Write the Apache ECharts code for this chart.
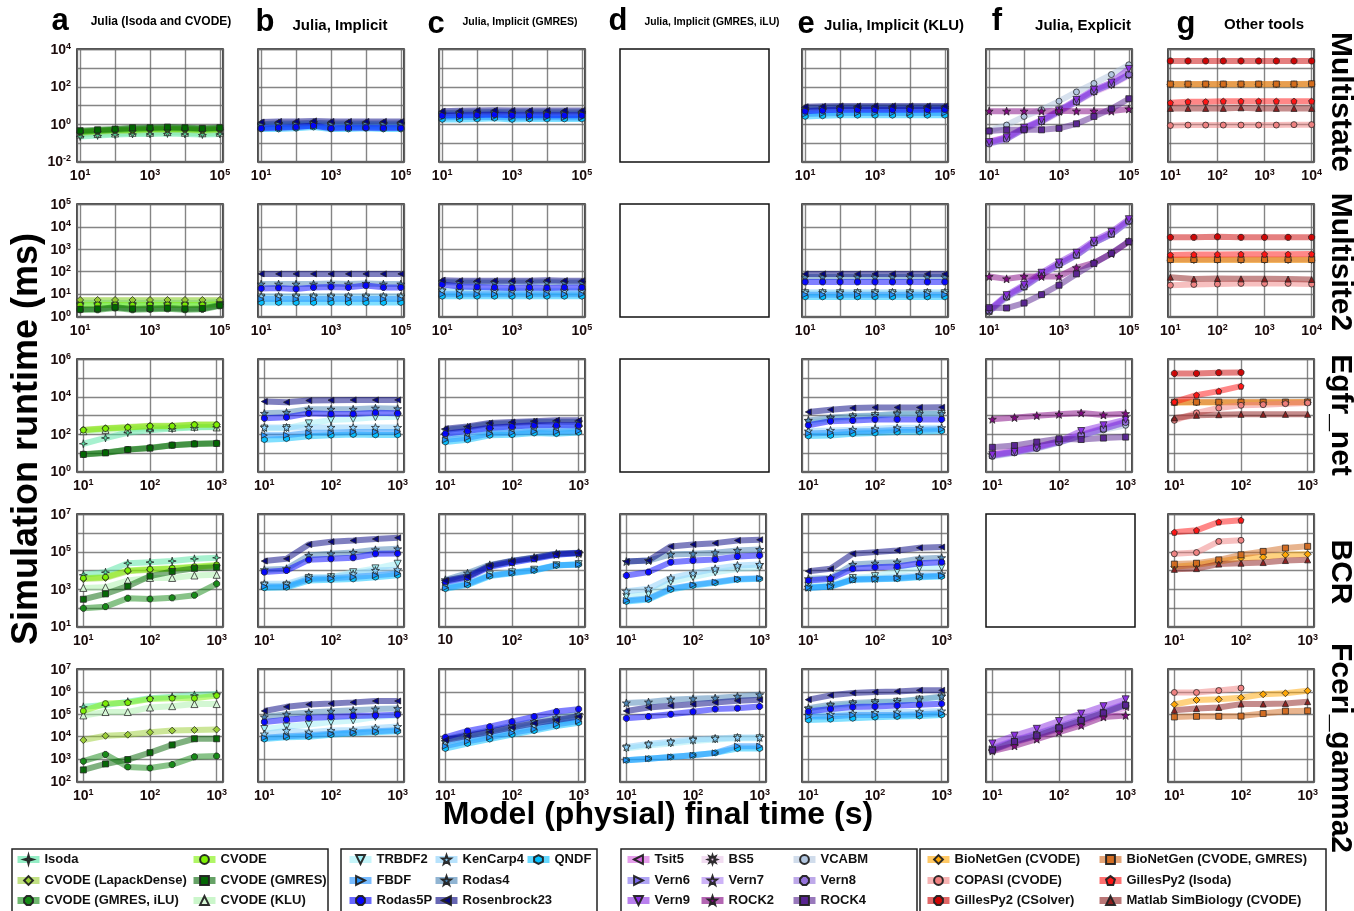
<!DOCTYPE html>
<html><head><meta charset="utf-8">
<script src="https://cdn.jsdelivr.net/npm/echarts@6/dist/echarts.min.js"></script>
<style>html,body{margin:0;padding:0;background:#fff}#chart{width:1354px;height:911px}</style>
</head><body><div id="chart"></div>
<script>
// ---------- x values (model final time, s) ----------
const X_T1 = [10, 31.6, 100, 316, 1000, 3160, 10000, 31600, 100000];
const X_G1 = [10, 23.7, 56.2, 133, 316, 750, 1780, 4220, 10000];
const X_G2 = [10, 31.6, 100, 316, 1000, 3160, 10000];
const X_T3 = [10, 21.5, 46.4, 100, 215, 464, 1000];

// ---------- Multistate (runtime, ms) ----------
const MS_a_Isoda = [0.22,0.25,0.28,0.3,0.3,0.32,0.3,0.28,0.3];
const MS_a_CVODE = [0.4,0.45,0.5,0.5,0.55,0.55,0.55,0.5,0.55];
const MS_a_Lapack = [0.35,0.4,0.45,0.45,0.5,0.5,0.5,0.45,0.5];
const MS_a_GMRES = [0.45,0.5,0.55,0.65,0.65,0.7,0.65,0.6,0.65];
const MS_a_iLU = [0.4,0.45,0.5,0.55,0.6,0.6,0.6,0.55,0.6];
const MS_a_KLU = [0.28,0.3,0.32,0.35,0.35,0.38,0.35,0.33,0.35];
const MS_b_TRBDF2 = [0.8,0.85,0.9,0.9,0.85,0.85,0.9,0.85,0.85];
const MS_b_KenCarp4 = [0.9,0.95,1.0,1.0,0.95,0.95,1.0,0.95,0.95];
const MS_b_QNDF = [0.55,0.55,0.6,0.7,0.55,0.55,0.6,0.55,0.55];
const MS_b_FBDF = [0.7,0.7,0.75,0.8,0.7,0.7,0.75,0.7,0.7];
const MS_b_Rodas4 = [1.0,1.1,1.1,1.2,1.1,1.1,1.1,1.1,1.1];
const MS_b_Rodas5P = [0.6,0.65,0.7,0.85,0.6,0.65,0.65,0.62,0.62];
const MS_b_Rosen = [1.3,1.4,1.4,1.5,1.4,1.4,1.4,1.4,1.4];
const MS_c_TRBDF2 = [2.6,2.7,2.8,2.9,2.7,2.7,2.8,2.7,2.7];
const MS_c_KenCarp4 = [3.4,3.5,3.6,3.8,3.5,3.5,3.6,3.5,3.5];
const MS_c_QNDF = [1.8,1.8,1.9,2.1,1.8,1.9,1.9,1.9,1.9];
const MS_c_FBDF = [2.3,2.4,2.4,2.5,2.3,2.3,2.4,2.3,2.3];
const MS_c_Rodas4 = [4.0,4.2,4.4,4.5,4.3,4.3,4.3,4.3,4.3];
const MS_c_Rodas5P = [2.9,3.0,3.1,3.3,3.0,3.0,3.0,3.0,3.0];
const MS_c_Rosen = [5.0,5.2,5.4,5.6,5.4,5.4,5.4,5.4,5.4];
const MS_e_TRBDF2 = [4,4.3,4.6,4.6,4.6,4.6,4.6,4.6,4.6];
const MS_e_KenCarp4 = [5.5,6,6.5,6.5,6.5,6.5,6.5,6.5,6.5];
const MS_e_QNDF = [2.6,2.8,3,3,3,3,3,3,3];
const MS_e_FBDF = [3.5,3.7,4,4,4,4,4,4,4];
const MS_e_Rodas4 = [7,7.5,8,8,8,8,8,8,8];
const MS_e_Rodas5P = [5,5.5,6,6,6,6,6,6,6.2];
const MS_e_Rosen = [8.5,9,9.5,9.5,9.5,9.5,9.5,9.5,9.5];
const MS_f_Tsit5 = [0.12,0.2,0.55,1.4,4.5,16,55,130,420];
const MS_f_BS5 = [0.1,0.18,0.5,1.3,4.2,15,50,120,400];
const MS_f_VCABM = [0.45,0.9,2.6,6,17,53,150,450,1500];
const MS_f_Vern6 = [0.1,0.17,0.6,1.5,4.9,17,60,140,450];
const MS_f_Vern7 = [0.1,0.17,0.6,1.5,5,17,60,145,460];
const MS_f_Vern8 = [0.09,0.16,0.55,1.4,4.8,16,58,140,450];
const MS_f_Vern9 = [0.11,0.2,0.65,1.7,5.5,20,70,170,900];
const MS_f_ROCK2 = [5,5,5,5,5.2,5,5,5,6.5];
const MS_f_ROCK4 = [0.43,0.5,0.5,0.5,0.6,1.05,2.6,6.6,23];
const MS_g_BNG = [135,135,135,135,135,135,135,135,140];
const MS_g_BNGg = [140,140,140,140,140,140,140,140,145];
const MS_g_COPASI = [0.85,0.9,0.9,0.9,0.9,0.9,0.9,0.95,0.95];
const MS_g_GPIsoda = [14,16,16,17,17,17,17,17,17];
const MS_g_GPCS = [2400,2400,2400,2400,2400,2400,2400,2400,2400];
const MS_g_Matlab = [7,7,7,7,7.5,7,7,7,7];

// ---------- Multisite2 ----------
const M2_a_Isoda = [4,4,4,4,4,4,4,4,4.5];
const M2_a_CVODE = [3.2,3.3,3.3,3.2,3.3,3.3,3.3,3.3,3.5];
const M2_a_Lapack = [5.5,5.5,5.5,5.5,5.5,5.5,5.5,5.5,5.5];
const M2_a_GMRES = [2.1,2.2,2.6,2.2,2.3,2.4,2.2,2.3,3.2];
const M2_a_iLU = [2.0,2.0,2.4,2.0,2.1,2.2,2.0,2.1,3.0];
const M2_a_KLU = [5,5,5,5,5,5,5,5,5];
const M2_b_TRBDF2 = [7,7,7,7,7,7,7,7,7];
const M2_b_KenCarp4 = [8,8,8,8,8,8,8,8,8];
const M2_b_QNDF = [4.2,4.2,4.2,4.2,4.2,4.2,4.2,4.2,4.2];
const M2_b_FBDF = [6,6,6,6,6,6,6,6,6];
const M2_b_Rodas4 = [28,28,28,28,30,28,30,28,28];
const M2_b_Rodas5P = [18,19,17,20,21,20,24,20,20];
const M2_b_Rosen = [80,80,80,80,80,80,80,80,80];
const M2_c_TRBDF2 = [12,12,12,12,12,12,12,12,12];
const M2_c_KenCarp4 = [15,14,14,14,14,14,14,14,14];
const M2_c_QNDF = [8,8,8,8,8,8,8,8,8];
const M2_c_FBDF = [10,10,10,10,10,10,10,10,10];
const M2_c_Rodas4 = [35,33,33,33,33,33,34,33,33];
const M2_c_Rodas5P = [27,22,21,20,19,20,19,20,20];
const M2_c_Rosen = [42,40,40,40,40,40,42,40,40];
const M2_e_TRBDF2 = [11,11,11,11,11,11,11,11,11];
const M2_e_KenCarp4 = [12,12,12,12,12,12,12,12,12];
const M2_e_QNDF = [7.5,7.5,7.5,7.5,7.5,7.5,7.5,7.5,7.5];
const M2_e_FBDF = [9.5,9.5,9.5,9.5,9.5,9.5,9.5,9.5,9.5];
const M2_e_Rodas4 = [58,58,58,58,58,58,58,58,58];
const M2_e_Rodas5P = [35,35,35,35,35,35,35,35,35];
const M2_e_Rosen = [80,80,80,80,80,80,80,80,80];
const M2_f_Tsit5 = [1.7,7.5,21,72,205,540,1950,4700,18000];
const M2_f_BS5 = [1.7,7.8,21,73,205,545,1950,4700,18000];
const M2_f_VCABM = [1.6,7,20,70,200,520,1900,4600,17000];
const M2_f_Vern6 = [1.8,8,22,75,210,560,2000,4800,19000];
const M2_f_Vern7 = [1.8,8,22,76,215,570,2050,4900,19000];
const M2_f_Vern8 = [1.8,8,22,74,210,560,2000,4800,18500];
const M2_f_Vern9 = [2.0,9,26,90,260,700,2400,6000,22000];
const M2_f_ROCK2 = [61,48,61,61,61,150,250,640,2200];
const M2_f_ROCK4 = [2.5,2.4,4,9.5,25,80,235,660,2200];
const M2_g_BNG = [330,330,330,330,330,330,330];
const M2_g_BNGg = [350,350,350,350,350,350,350];
const M2_g_COPASI = [25,27,28,30,30,30,28];
const M2_g_GPIsoda = [560,580,590,600,600,600,610];
const M2_g_GPCS = [3400,3400,3600,3400,3400,3400,3400];
const M2_g_Matlab = [57,47,50,48,48,47,45];

// ---------- Egfr_net ----------
const EG_a_Isoda = [31,63,120,165,200,230,250];
const EG_a_CVODE = [165,200,230,270,270,320,320];
const EG_a_Lapack = [175,210,240,280,280,330,330];
const EG_a_GMRES = [8.3,10,15,18,26,30,32];
const EG_a_iLU = [8.5,10.5,15,19,26,31,33];
const EG_a_KLU = [145,170,190,210,220,250,230];
const EG_b_TRBDF2 = [200,210,380,570,650,800,860];
const EG_b_KenCarp4 = [230,230,230,230,230,230,230];
const EG_b_QNDF = [51,58,78,88,96,92,92];
const EG_b_FBDF = [88,88,118,120,133,133,133];
const EG_b_Rodas4 = [1300,1450,2150,2150,2150,2450,2300];
const EG_b_Rodas5P = [710,800,1300,1200,1200,1400,1300];
const EG_b_Rosen = [5600,5100,6300,6600,6800,6800,6800];
const EG_c_TRBDF2 = [70,95,140,160,180,190,200];
const EG_c_KenCarp4 = [90,120,180,200,220,230,240];
const EG_c_QNDF = [38,50,87,93,115,107,125];
const EG_c_FBDF = [50,65,110,120,140,135,150];
const EG_c_Rodas4 = [170,230,350,380,450,450,450];
const EG_c_Rodas5P = [107,148,220,260,300,300,300];
const EG_c_Rosen = [195,260,400,450,500,550,550];
const EG_e_TRBDF2 = [400,600,800,950,1100,1150,1200];
const EG_e_KenCarp4 = [148,160,175,195,220,220,220];
const EG_e_QNDF = [80,86,105,115,130,135,148];
const EG_e_FBDF = [110,120,140,150,170,175,185];
const EG_e_Rodas4 = [550,760,900,1000,1260,1260,1260];
const EG_e_Rodas5P = [300,500,540,620,620,620,620];
const EG_e_Rosen = [1550,2050,2500,2700,2700,2700,2750];
const EG_f_Tsit5 = [9,13,22,40,90,200,420];
const EG_f_BS5 = [8.5,12.5,21,39,88,198,410];
const EG_f_VCABM = [6.5,10,17,35,80,170,300];
const EG_f_Vern6 = [7.2,11,19,38,87,195,450];
const EG_f_Vern7 = [7.5,11.5,20,40,95,220,480];
const EG_f_Vern8 = [7,10.5,18,37,85,190,430];
const EG_f_Vern9 = [8,12,21,42,148,300,600];
const EG_f_ROCK2 = [630,770,980,1150,1370,1070,1260];
const EG_f_ROCK4 = [20,25,38,57,52,62,70];
const EG_g_BNG = [4900,5000,5000,5000,5000,5000,5100];
const EG_g_BNGg = [5100,5200,5200,5200,5200,5200,5300];
const EG_g_COPASI = [550,1380,2500,3500,3800,4300,4700];
const EG_g_GPIsoda = [5300,12300,20000,37000];
const EG_g_GPCS = [178000,178000,195000,200000];
const EG_g_Matlab = [740,1020,1100,1150,1150,1150,1150];

// ---------- BCR ----------
const BC_a_Isoda = [5900,8100,24500,28000,32000,42000,48000];
const BC_a_CVODE = [3900,4400,10000,11700,13300,16000,20000];
const BC_a_Lapack = [3500,4000,9000,11000,12500,15000,18000];
const BC_a_GMRES = [290,560,1450,5000,8900,13000,15000];
const BC_a_iLU = [96,117,330,300,345,480,1940];
const BC_a_KLU = [1170,1270,2900,4000,4000,5400,5900];
const BC_b_TRBDF2 = [1600,1600,4000,4400,8100,13000,23000];
const BC_b_KenCarp4 = [1940,1940,4400,4400,6600,10000,11000];
const BC_b_QNDF = [1170,1270,2900,3160,3500,4400,5600];
const BC_b_FBDF = [1400,1400,3500,3800,4500,5500,7000];
const BC_b_Rodas4 = [11000,12400,63000,78000,92000,127000,144000];
const BC_b_Rodas5P = [8200,10000,37000,42000,48000,78000,80000];
const BC_b_Rosen = [32000,42000,245000,345000,400000,480000,560000];
const BC_c_TRBDF2 = [1500,2200,6000,8000,11000,19000,22000];
const BC_c_KenCarp4 = [2700,5000,17000,28000,45000,72000,80000];
const BC_c_QNDF = [1050,1700,5000,7200,10000,18600,21000];
const BC_c_FBDF = [1200,1900,5500,7500,10500,19000,21000];
const BC_c_Rodas4 = [3200,7200,20000,33000,50000,80000,90000];
const BC_c_Rodas5P = [2500,4200,16000,27000,42000,70000,85000];
const BC_c_Rosen = [2900,4800,18600,32000,48000,78000,85000];
const BC_d_TRBDF2 = [400,550,2500,4500,8000,12000,15000];
const BC_d_KenCarp4 = [780,1050,4000,7200,12400,18600,21000];
const BC_d_QNDF = [220,280,960,1580,2200,3300,3600];
const BC_d_FBDF = [250,320,1100,1700,2400,3500,3800];
const BC_d_Rodas4 = [30000,34000,72000,78000,89000,118000,133000];
const BC_d_Rodas5P = [5400,8200,28000,34000,39000,56000,63000];
const BC_d_Rosen = [30000,34000,194000,247000,290000,405000,440000];
const BC_e_TRBDF2 = [1500,1800,4000,5000,9200,13800,15000];
const BC_e_KenCarp4 = [1270,1500,3500,3800,4500,5800,6600];
const BC_e_QNDF = [1170,1390,3160,3400,3600,4400,4800];
const BC_e_FBDF = [1200,1400,3300,3500,3900,4800,5300];
const BC_e_Rodas4 = [3600,4000,21000,24500,28000,42000,48000];
const BC_e_Rodas5P = [2900,3600,12300,15000,16400,24500,28000];
const BC_e_Rosen = [9200,12300,78000,96000,118000,163000,178000];
const BC_g_BNG = [16000,20000,30000,46000,52000,69000,74000];
const BC_g_BNGg = [22000,24500,37000,69000,105000,158000,195000];
const BC_g_COPASI = [78000,91000,360000,410000];
const BC_g_GPIsoda = [1100000,1400000,3900000,4900000];
const BC_g_Matlab = [11500,12600,22000,24500,26500,34000,37000];

// ---------- Fceri_gamma2 ----------
const FC_a_Isoda = [215000,257000,365000,520000,610000,730000,810000];
const FC_a_CVODE = [141000,300000,330000,480000,520000,520000,680000];
const FC_a_Lapack = [7100,11000,12300,15800,18700,20000,21000];
const FC_a_GMRES = [330,610,960,1940,4300,8100,8100];
const FC_a_iLU = [810,1620,450,400,570,1270,1370];
const FC_a_KLU = [89000,126000,126000,200000,230000,285000,285000];
const FC_b_TRBDF2 = [22000,28500,35000,45000,53000,76000,89000];
const FC_b_KenCarp4 = [13200,18700,16000,18700,20000,24500,28500];
const FC_b_QNDF = [7800,9400,10000,12300,14200,15800,17400];
const FC_b_FBDF = [9000,10500,11500,13500,15500,17500,19500];
const FC_b_Rodas4 = [76000,100000,120000,138000,150000,170000,180000];
const FC_b_Rodas5P = [45000,57000,68000,76000,84000,89000,95000];
const FC_b_Rosen = [141000,215000,275000,300000,340000,390000,390000];
const FC_c_TRBDF2 = [5000,8000,12000,19000,28000,45000,60000];
const FC_c_KenCarp4 = [6000,9500,14000,22000,33000,52000,70000];
const FC_c_QNDF = [2950,5000,7800,12600,18600,30000,42000];
const FC_c_FBDF = [3800,6300,9500,15000,22000,36000,50000];
const FC_c_Rodas4 = [7800,12500,19000,30000,48000,70000,100000];
const FC_c_Rodas5P = [9400,18000,28000,47000,79000,132000,170000];
const FC_c_Rosen = [7100,11000,16600,26000,40000,56000,79000];
const FC_d_TRBDF2 = [3000,4000,5000,6500,7500,8500,8500];
const FC_d_KenCarp4 = [3500,4700,5900,7500,8400,9300,9300];
const FC_d_QNDF = [890,1050,1250,1480,1900,2950,2950];
const FC_d_FBDF = [900,1050,1250,1480,1900,3800,3800];
const FC_d_Rodas4 = [320000,350000,450000,490000,530000,630000,740000];
const FC_d_Rodas5P = [66000,79000,100000,129000,170000,187000,224000];
const FC_d_Rosen = [141000,200000,240000,282000,338000,400000,450000];
const FC_e_TRBDF2 = [150000,220000,280000,320000,360000,450000,560000];
const FC_e_KenCarp4 = [90000,100000,110000,120000,125000,130000,140000];
const FC_e_QNDF = [56000,60000,66000,74000,79000,83000,93000];
const FC_e_FBDF = [79000,79000,93000,93000,93000,100000,110000];
const FC_e_Rodas4 = [187000,265000,315000,350000,375000,475000,630000];
const FC_e_Rodas5P = [132000,174000,209000,224000,245000,265000,294000];
const FC_e_Rosen = [450000,700000,890000,980000,1050000,1170000,1170000];
const FC_f_Tsit5 = [2600,5500,11000,22000,45000,100000,200000];
const FC_f_BS5 = [2600,5800,11500,23000,48000,105000,220000];
const FC_f_VCABM = [2700,6000,12000,25000,52000,112000,250000];
const FC_f_Vern6 = [2900,6500,13000,27000,57000,125000,280000];
const FC_f_Vern7 = [3200,7000,14000,29000,62000,135000,300000];
const FC_f_Vern8 = [2800,6300,12500,26000,55000,120000,270000];
const FC_f_Vern9 = [5000,11200,22500,50000,108000,230000,465000];
const FC_f_ROCK2 = [2300,3900,7800,16000,32000,76000,89000];
const FC_f_ROCK4 = [2470,6100,11000,24700,53000,115000,255000];
const FC_g_BNG = [275000,435000,465000,550000,780000,870000,1120000];
const FC_g_BNGg = [76000,81000,81000,83000,108000,138000,143000];
const FC_g_COPASI = [940000,940000,1150000,1470000];
const FC_g_Matlab = [151000,180000,200000,285000,285000,300000,365000];

// ---------- tick label exponents ----------
const Y_EXP = [[-2,0,2,4],[0,1,2,3,4,5],[0,2,4,6],[1,3,5,7],[2,3,4,5,6,7]];
const Y_RANGE = [[-2,4],[0,5],[0,6],[1,7],[2,7]];
const X_EXP_WIDE = [1,3,5];
const X_EXP_G = [1,2,3,4];
const X_EXP_SHORT = [1,2,3];

// ---------- panel contents ----------
const N = {I:'Isoda',C:'CVODE',L:'CVODE (LapackDense)',G:'CVODE (GMRES)',GI:'CVODE (GMRES, iLU)',K:'CVODE (KLU)',
  T:'TRBDF2',KC:'KenCarp4',Q:'QNDF',F:'FBDF',R4:'Rodas4',R5:'Rodas5P',RB:'Rosenbrock23',
  TS:'Tsit5',B5:'BS5',VC:'VCABM',V6:'Vern6',V7:'Vern7',V8:'Vern8',V9:'Vern9',K2:'ROCK2',K4:'ROCK4',
  BN:'BioNetGen (CVODE)',BG:'BioNetGen (CVODE, GMRES)',CO:'COPASI (CVODE)',GP:'GillesPy2 (Isoda)',GC:'GillesPy2 (CSolver)',MB:'Matlab SimBiology (CVODE)'};

const PANELS = [
 {r:0,c:0,x:X_T1,s:[[N.K,MS_a_KLU],[N.I,MS_a_Isoda],[N.L,MS_a_Lapack],[N.C,MS_a_CVODE],[N.GI,MS_a_iLU],[N.G,MS_a_GMRES]]},
 {r:0,c:1,x:X_T1,s:[[N.T,MS_b_TRBDF2],[N.KC,MS_b_KenCarp4],[N.Q,MS_b_QNDF],[N.F,MS_b_FBDF],[N.R4,MS_b_Rodas4],[N.R5,MS_b_Rodas5P],[N.RB,MS_b_Rosen]]},
 {r:0,c:2,x:X_T1,s:[[N.T,MS_c_TRBDF2],[N.KC,MS_c_KenCarp4],[N.Q,MS_c_QNDF],[N.F,MS_c_FBDF],[N.R4,MS_c_Rodas4],[N.R5,MS_c_Rodas5P],[N.RB,MS_c_Rosen]]},
 {r:0,c:4,x:X_T1,s:[[N.T,MS_e_TRBDF2],[N.KC,MS_e_KenCarp4],[N.Q,MS_e_QNDF],[N.F,MS_e_FBDF],[N.R4,MS_e_Rodas4],[N.R5,MS_e_Rodas5P],[N.RB,MS_e_Rosen]]},
 {r:0,c:5,x:X_T1,s:[[N.TS,MS_f_Tsit5],[N.B5,MS_f_BS5],[N.VC,MS_f_VCABM],[N.V6,MS_f_Vern6],[N.V7,MS_f_Vern7],[N.V8,MS_f_Vern8],[N.V9,MS_f_Vern9],[N.K2,MS_f_ROCK2],[N.K4,MS_f_ROCK4]]},
 {r:0,c:6,x:X_G1,s:[[N.BN,MS_g_BNG],[N.BG,MS_g_BNGg],[N.CO,MS_g_COPASI],[N.GP,MS_g_GPIsoda],[N.GC,MS_g_GPCS],[N.MB,MS_g_Matlab]]},

 {r:1,c:0,x:X_T1,s:[[N.K,M2_a_KLU],[N.I,M2_a_Isoda],[N.L,M2_a_Lapack],[N.C,M2_a_CVODE],[N.GI,M2_a_iLU],[N.G,M2_a_GMRES]]},
 {r:1,c:1,x:X_T1,s:[[N.T,M2_b_TRBDF2],[N.KC,M2_b_KenCarp4],[N.Q,M2_b_QNDF],[N.F,M2_b_FBDF],[N.R4,M2_b_Rodas4],[N.R5,M2_b_Rodas5P],[N.RB,M2_b_Rosen]]},
 {r:1,c:2,x:X_T1,s:[[N.T,M2_c_TRBDF2],[N.KC,M2_c_KenCarp4],[N.Q,M2_c_QNDF],[N.F,M2_c_FBDF],[N.R4,M2_c_Rodas4],[N.R5,M2_c_Rodas5P],[N.RB,M2_c_Rosen]]},
 {r:1,c:4,x:X_T1,s:[[N.T,M2_e_TRBDF2],[N.KC,M2_e_KenCarp4],[N.Q,M2_e_QNDF],[N.F,M2_e_FBDF],[N.R4,M2_e_Rodas4],[N.R5,M2_e_Rodas5P],[N.RB,M2_e_Rosen]]},
 {r:1,c:5,x:X_T1,s:[[N.TS,M2_f_Tsit5],[N.B5,M2_f_BS5],[N.VC,M2_f_VCABM],[N.V6,M2_f_Vern6],[N.V7,M2_f_Vern7],[N.V8,M2_f_Vern8],[N.V9,M2_f_Vern9],[N.K2,M2_f_ROCK2],[N.K4,M2_f_ROCK4]]},
 {r:1,c:6,x:X_G2,s:[[N.BN,M2_g_BNG],[N.BG,M2_g_BNGg],[N.CO,M2_g_COPASI],[N.GP,M2_g_GPIsoda],[N.GC,M2_g_GPCS],[N.MB,M2_g_Matlab]]},

 {r:2,c:0,x:X_T3,s:[[N.K,EG_a_KLU],[N.I,EG_a_Isoda],[N.L,EG_a_Lapack],[N.C,EG_a_CVODE],[N.GI,EG_a_iLU],[N.G,EG_a_GMRES]]},
 {r:2,c:1,x:X_T3,s:[[N.T,EG_b_TRBDF2],[N.KC,EG_b_KenCarp4],[N.Q,EG_b_QNDF],[N.F,EG_b_FBDF],[N.R4,EG_b_Rodas4],[N.R5,EG_b_Rodas5P],[N.RB,EG_b_Rosen]]},
 {r:2,c:2,x:X_T3,s:[[N.T,EG_c_TRBDF2],[N.KC,EG_c_KenCarp4],[N.Q,EG_c_QNDF],[N.F,EG_c_FBDF],[N.R4,EG_c_Rodas4],[N.R5,EG_c_Rodas5P],[N.RB,EG_c_Rosen]]},
 {r:2,c:4,x:X_T3,s:[[N.T,EG_e_TRBDF2],[N.KC,EG_e_KenCarp4],[N.Q,EG_e_QNDF],[N.F,EG_e_FBDF],[N.R4,EG_e_Rodas4],[N.R5,EG_e_Rodas5P],[N.RB,EG_e_Rosen]]},
 {r:2,c:5,x:X_T3,s:[[N.TS,EG_f_Tsit5],[N.B5,EG_f_BS5],[N.VC,EG_f_VCABM],[N.V6,EG_f_Vern6],[N.V7,EG_f_Vern7],[N.V8,EG_f_Vern8],[N.V9,EG_f_Vern9],[N.K2,EG_f_ROCK2],[N.K4,EG_f_ROCK4]]},
 {r:2,c:6,x:X_T3,s:[[N.BN,EG_g_BNG],[N.BG,EG_g_BNGg],[N.CO,EG_g_COPASI],[N.GP,EG_g_GPIsoda],[N.GC,EG_g_GPCS],[N.MB,EG_g_Matlab]]},

 {r:3,c:0,x:X_T3,s:[[N.K,BC_a_KLU],[N.I,BC_a_Isoda],[N.L,BC_a_Lapack],[N.C,BC_a_CVODE],[N.GI,BC_a_iLU],[N.G,BC_a_GMRES]]},
 {r:3,c:1,x:X_T3,s:[[N.T,BC_b_TRBDF2],[N.KC,BC_b_KenCarp4],[N.Q,BC_b_QNDF],[N.F,BC_b_FBDF],[N.R4,BC_b_Rodas4],[N.R5,BC_b_Rodas5P],[N.RB,BC_b_Rosen]]},
 {r:3,c:2,x:X_T3,first10:true,s:[[N.T,BC_c_TRBDF2],[N.KC,BC_c_KenCarp4],[N.Q,BC_c_QNDF],[N.F,BC_c_FBDF],[N.R4,BC_c_Rodas4],[N.R5,BC_c_Rodas5P],[N.RB,BC_c_Rosen]]},
 {r:3,c:3,x:X_T3,s:[[N.T,BC_d_TRBDF2],[N.KC,BC_d_KenCarp4],[N.Q,BC_d_QNDF],[N.F,BC_d_FBDF],[N.R4,BC_d_Rodas4],[N.R5,BC_d_Rodas5P],[N.RB,BC_d_Rosen]]},
 {r:3,c:4,x:X_T3,s:[[N.T,BC_e_TRBDF2],[N.KC,BC_e_KenCarp4],[N.Q,BC_e_QNDF],[N.F,BC_e_FBDF],[N.R4,BC_e_Rodas4],[N.R5,BC_e_Rodas5P],[N.RB,BC_e_Rosen]]},
 {r:3,c:6,x:X_T3,s:[[N.BN,BC_g_BNG],[N.BG,BC_g_BNGg],[N.CO,BC_g_COPASI],[N.GP,BC_g_GPIsoda],[N.MB,BC_g_Matlab]]},

 {r:4,c:0,x:X_T3,s:[[N.K,FC_a_KLU],[N.I,FC_a_Isoda],[N.L,FC_a_Lapack],[N.C,FC_a_CVODE],[N.GI,FC_a_iLU],[N.G,FC_a_GMRES]]},
 {r:4,c:1,x:X_T3,s:[[N.T,FC_b_TRBDF2],[N.KC,FC_b_KenCarp4],[N.Q,FC_b_QNDF],[N.F,FC_b_FBDF],[N.R4,FC_b_Rodas4],[N.R5,FC_b_Rodas5P],[N.RB,FC_b_Rosen]]},
 {r:4,c:2,x:X_T3,s:[[N.T,FC_c_TRBDF2],[N.KC,FC_c_KenCarp4],[N.Q,FC_c_QNDF],[N.F,FC_c_FBDF],[N.R4,FC_c_Rodas4],[N.R5,FC_c_Rodas5P],[N.RB,FC_c_Rosen]]},
 {r:4,c:3,x:X_T3,s:[[N.T,FC_d_TRBDF2],[N.KC,FC_d_KenCarp4],[N.Q,FC_d_QNDF],[N.F,FC_d_FBDF],[N.R4,FC_d_Rodas4],[N.R5,FC_d_Rodas5P],[N.RB,FC_d_Rosen]]},
 {r:4,c:4,x:X_T3,s:[[N.T,FC_e_TRBDF2],[N.KC,FC_e_KenCarp4],[N.Q,FC_e_QNDF],[N.F,FC_e_FBDF],[N.R4,FC_e_Rodas4],[N.R5,FC_e_Rodas5P],[N.RB,FC_e_Rosen]]},
 {r:4,c:5,x:X_T3,s:[[N.TS,FC_f_Tsit5],[N.B5,FC_f_BS5],[N.VC,FC_f_VCABM],[N.V6,FC_f_Vern6],[N.V7,FC_f_Vern7],[N.V8,FC_f_Vern8],[N.V9,FC_f_Vern9],[N.K2,FC_f_ROCK2],[N.K4,FC_f_ROCK4]]},
 {r:4,c:6,x:X_T3,s:[[N.BN,FC_g_BNG],[N.BG,FC_g_BNGg],[N.CO,FC_g_COPASI],[N.MB,FC_g_Matlab]]},
];

// ---------- styling ----------
const FONT = '"Liberation Sans", Arial, sans-serif';
function poly(n, r1, r2, rot) {
  const pts = [];
  const m = r2 ? n * 2 : n;
  for (let i = 0; i < m; i++) {
    const r = r2 ? (i % 2 ? r2 : r1) : r1;
    const a = rot + i * 2 * Math.PI / m;
    pts.push((r * Math.cos(a)).toFixed(2) + ',' + (r * Math.sin(a)).toFixed(2));
  }
  return 'path://M' + pts.join(' L') + ' Z';
}
const SYM = {
  star4: poly(4, 10, 3, -Math.PI/2), star5: poly(5, 10, 4, -Math.PI/2), star8: poly(8, 10, 5, -Math.PI/2),
  hex: poly(6, 10, 0, -Math.PI/2), pent: poly(5, 10, 0, -Math.PI/2), oct: poly(8, 10, 0, Math.PI/8),
  triD: 'path://M-10,-8 L10,-8 L0,10 Z', triL: 'path://M-10,0 L8,-10 L8,10 Z', triR: 'path://M10,0 L-8,-10 L-8,10 Z'
};
const STY = {
  'Isoda': {c:'#4fe3a0', sym:SYM.star4, size:8},
  'CVODE': {c:'#7cf000', sym:'circle'},
  'CVODE (LapackDense)': {c:'#9acd32', sym:'diamond', size:7},
  'CVODE (GMRES)': {c:'#006400', sym:'rect'},
  'CVODE (GMRES, iLU)': {c:'#118811', sym:SYM.oct},
  'CVODE (KLU)': {c:'#a8f0a8', sym:'triangle', fill:'#d8f8d8', size:7},
  'TRBDF2': {c:'#a0eef6', sym:SYM.triD, size:7},
  'KenCarp4': {c:'#87cefa', sym:SYM.star5, size:8},
  'QNDF': {c:'#00bfff', sym:SYM.hex},
  'FBDF': {c:'#1e90ff', sym:SYM.triR},
  'Rodas4': {c:'#4682b4', sym:SYM.star5, size:8},
  'Rodas5P': {c:'#0000ff', sym:SYM.oct},
  'Rosenbrock23': {c:'#000080', sym:SYM.triL},
  'Tsit5': {c:'#d65fe0', sym:SYM.triL},
  'BS5': {c:'#e8c4e8', sym:SYM.star8, size:7},
  'VCABM': {c:'#b0c4de', sym:'circle'},
  'Vern6': {c:'#7b68ee', sym:SYM.triR},
  'Vern7': {c:'#ab80f2', sym:SYM.star5, size:7},
  'Vern8': {c:'#9370db', sym:SYM.oct},
  'Vern9': {c:'#8a2be2', sym:SYM.triD, size:7},
  'ROCK2': {c:'#800080', sym:SYM.star5, size:8},
  'ROCK4': {c:'#55208f', sym:'rect'},
  'BioNetGen (CVODE)': {c:'#ffa500', sym:'diamond', size:7},
  'BioNetGen (CVODE, GMRES)': {c:'#d2691e', sym:'rect'},
  'COPASI (CVODE)': {c:'#f08080', sym:'circle'},
  'GillesPy2 (Isoda)': {c:'#ff1010', sym:SYM.pent},
  'GillesPy2 (CSolver)': {c:'#cc0000', sym:SYM.oct},
  'Matlab SimBiology (CVODE)': {c:'#8b1a1a', sym:'triangle'}
};

// ---------- layout ----------
const COL_LEFT = [77, 258, 439, 620, 802, 986, 1168];
const ROW_TOP = [49, 204, 359, 514, 669];
const PW = 146, PH = 113;
const EMPTY = [[0,3],[1,3],[2,3],[3,5]];

const RICH = {
  b: {fontFamily: FONT, fontWeight: 'bold', fontSize: 14, color: '#1a0a0a', verticalAlign: 'bottom'},
  s: {fontFamily: FONT, fontWeight: 'bold', fontSize: 9, color: '#1a0a0a', verticalAlign: 'bottom', padding: [0, 0, 6, 0]},
  p: {fontFamily: FONT, fontWeight: 'bold', fontSize: 14, color: '#1a0a0a', verticalAlign: 'bottom'}
};
function makeFmt(exps, first10) {
  return function (v) {
    const e = Math.log10(v);
    const re = Math.round(e);
    if (Math.abs(e - re) > 1e-6 || exps.indexOf(re) < 0) return '';
    if (first10 && re === 1) return '{p|10}';
    return '{b|10}{s|' + re + '}';
  };
}

const grids = [], xAxes = [], yAxes = [], series = [];
PANELS.forEach((p, gi) => {
  grids.push({left: COL_LEFT[p.c], top: ROW_TOP[p.r], width: PW, height: PH, show: true,
    borderColor: '#111', borderWidth: 1.5, backgroundColor: 'transparent', containLabel: false});
  let xr, xpad, xexp;
  if (p.r <= 1) {
    if (p.c === 6) { xr = [1, 4]; xpad = 0.05; xexp = X_EXP_G; }
    else { xr = [1, 5]; xpad = 0.09; xexp = X_EXP_WIDE; }
  } else { xr = [1, 3]; xpad = 0.095; xexp = X_EXP_SHORT; }
  const yr = Y_RANGE[p.r];
  const splitLine = {show: true, lineStyle: {color: '#666', width: 1.4, opacity: 0.8}};
  xAxes.push({type: 'log', logBase: 10, gridIndex: gi, min: Math.pow(10, xr[0] - xpad), max: Math.pow(10, xr[1] + xpad),
    axisLine: {show: false}, axisTick: {show: false}, splitLine,
    axisLabel: {show: true, margin: 6, formatter: makeFmt(xexp, p.first10), rich: RICH}});
  yAxes.push({type: 'log', logBase: 10, gridIndex: gi, min: Math.pow(10, yr[0] - 0.02), max: Math.pow(10, yr[1] + 0.02),
    axisLine: {show: false}, axisTick: {show: false}, splitLine,
    axisLabel: {show: p.c === 0, margin: 6, formatter: makeFmt(Y_EXP[p.r]), rich: RICH}});
  p.s.forEach(([name, ys]) => {
    const st = STY[name];
    series.push({
      type: 'line', name, xAxisIndex: gi, yAxisIndex: gi,
      data: ys.map((y, i) => [p.x[i], y]),
      symbol: st.sym, symbolSize: st.size || 6, showSymbol: true,
      lineStyle: {color: st.c, width: 6, opacity: 0.5},
      itemStyle: {color: st.fill || st.c, borderColor: '#222', borderWidth: 0.8, opacity: 0.95},
      emphasis: {disabled: true}, silent: true, animation: false
    });
  });
});

// legend layout (icon left x, row top y)
const LEG = [
 ['Isoda',14,853],['CVODE',190,853],['CVODE (LapackDense)',14,874],['CVODE (GMRES)',190,874],['CVODE (GMRES, iLU)',14,894],['CVODE (KLU)',190,894],
 ['TRBDF2',346,853],['KenCarp4',432,853],['QNDF',524,853],['FBDF',346,874],['Rodas4',432,874],['Rodas5P',346,894],['Rosenbrock23',432,894],
 ['Tsit5',624,853],['BS5',698,853],['VCABM',790,853],['Vern6',624,874],['Vern7',698,874],['Vern8',790,874],['Vern9',624,894],['ROCK2',698,894],['ROCK4',790,894],
 ['BioNetGen (CVODE)',924,853],['BioNetGen (CVODE, GMRES)',1096,853],['COPASI (CVODE)',924,874],['GillesPy2 (Isoda)',1096,874],['GillesPy2 (CSolver)',924,894],['Matlab SimBiology (CVODE)',1096,894]
];
const legends = LEG.map(([name, x, y]) => ({
  data: [name], left: x, top: y, padding: 0, itemWidth: 22, itemHeight: 11, itemGap: 0,
  selectedMode: false, lineStyle: {width: 7, opacity: 0.6},
  textStyle: {fontFamily: FONT, fontWeight: 'bold', fontSize: 13, color: '#111'}
}));

const graphics = [];
function txt(text, x, y, size, rot, extra) {
  graphics.push(Object.assign({type: 'text', x, y, rotation: rot || 0,
    style: {text, font: 'bold ' + size + 'px ' + FONT, fill: '#000', align: 'center', verticalAlign: 'middle'}}, extra || {}));
}
[['a',60,21],['b',265,22],['c',436,24],['d',618,21],['e',806,24],['f',997,21],['g',1186,24]].forEach(t => txt(t[0], t[1], t[2], 31));
txt('Julia (Isoda and CVODE)', 161, 22, 12);
txt('Julia, Implicit', 340, 26, 15);
txt('Julia, Implicit (GMRES)', 520, 22, 10.5);
txt('Julia, Implicit (GMRES, iLU)', 712, 22, 10.3);
txt('Julia, Implicit (KLU)', 894, 26, 15);
txt('Julia, Explicit', 1083, 26, 15);
txt('Other tools', 1264, 25, 15);
[['Multistate',102],['Multisite2',262],['Egfr_net',415],['BCR',572],['Fceri_gamma2',748]].forEach(t => txt(t[0], 1340, t[1], 30, -Math.PI/2));
txt('Simulation runtime (ms)', 27, 439, 36, Math.PI/2);
txt('Model (physial) final time (s)', 658, 815, 32);
EMPTY.forEach(([r, c]) => graphics.push({type: 'rect', shape: {x: COL_LEFT[c], y: ROW_TOP[r], width: PW + 3, height: PH},
  style: {fill: 'none', stroke: '#111', lineWidth: 1.5}}));
[[12,849,316,70],[341,849,256,70],[621,849,296,70],[920,849,406,70]].forEach(b => graphics.push({type: 'rect',
  shape: {x: b[0], y: b[1], width: b[2], height: b[3]}, style: {fill: 'none', stroke: '#222', lineWidth: 1.5}, z: -1}));

const chart = echarts.init(document.getElementById('chart'), null, {renderer: 'canvas'});
chart.setOption({
  backgroundColor: '#fff', animation: false,
  grid: grids, xAxis: xAxes, yAxis: yAxes, series, legend: legends, graphic: graphics
});
</script></body></html>
